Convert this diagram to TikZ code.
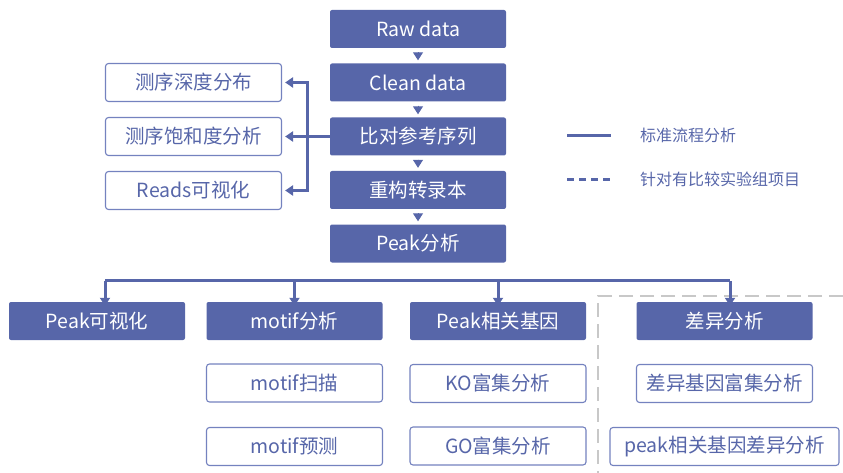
\documentclass[tikz,border=0pt]{standalone}
\usepackage{fontspec}
\setmainfont{Noto Sans CJK SC}
\usetikzlibrary{arrows.meta}
\definecolor{mainblue}{HTML}{5766A9}
\definecolor{frameblue}{HTML}{7482BF}
\definecolor{gridgray}{HTML}{C8C8C8}
\begin{document}
\begin{tikzpicture}[x=1pt,y=-1pt,
  solidbox/.style={fill=mainblue, text=white, rounded corners=2pt,
    minimum width=176pt, minimum height=38pt, inner sep=0pt,
    font=\fontsize{19.5}{21}\selectfont},
  framebox/.style={draw=frameblue, line width=1.1pt, fill=white, text=mainblue,
    rounded corners=3pt, minimum width=176pt, minimum height=38pt, inner sep=0pt,
    font=\fontsize{19.5}{21}\selectfont},
  link/.style={draw=mainblue, line width=3pt},
  tipline/.style={draw=mainblue, line width=1pt, -{Triangle[width=10pt,length=8pt]}, fill=mainblue},
  arrowlink/.style={link, -{Triangle[width=10pt,length=8pt]}, fill=mainblue},
  legendtext/.style={anchor=west, text=mainblue, font=\fontsize{16}{18}\selectfont, inner sep=0pt}
]
\useasboundingbox (0,0) rectangle (843,473);

% central column
\node[solidbox] (raw)   at (418,29)    {Raw data};
\node[solidbox] (clean) at (418,82.5)  {Clean data};
\node[solidbox] (align) at (418,136.5) {比对参考序列};
\node[solidbox] (recon) at (418,190)   {重构转录本};
\node[solidbox] (peak)  at (418,243.5) {Peak分析};

\draw[tipline, shorten <=4pt, shorten >=3pt] (raw.south) -- (clean.north);
\draw[tipline, shorten <=4pt, shorten >=3pt] (clean.south) -- (align.north);
\draw[tipline, shorten <=4pt, shorten >=3pt] (align.south) -- (recon.north);
\draw[tipline, shorten <=4pt, shorten >=3pt] (recon.south) -- (peak.north);

% left QC boxes
\node[framebox] (depth) at (193.5,82.5)  {测序深度分布};
\node[framebox] (satur) at (193.5,136.5) {测序饱和度分析};
\node[framebox] (reads) at (193.5,190.5) {Reads可视化};

\coordinate (bk) at (307,136.5);
\draw[link] (align.west) -- (bk);
\draw[link] (bk|-depth.east) -- (bk|-reads.east);
\draw[arrowlink] ([xshift=1.5pt]bk|-depth.east) -- ([xshift=3pt]depth.east);
\draw[arrowlink] (bk) -- ([xshift=3pt]satur.east);
\draw[arrowlink] ([xshift=1.5pt]bk|-reads.east) -- ([xshift=3pt]reads.east);

% legend
\coordinate (ls1) at (567,136);
\coordinate (le1) at (611,136);
\coordinate (ls2) at (567,180);
\coordinate (le2) at (611,180);
\draw[link] (ls1) -- (le1);
\draw[link, dash pattern=on 7pt off 5pt] (ls2) -- (le2);
\node[legendtext] (lg1) at (640,135) {标准流程分析};
\node[legendtext] (lg2) at (640,179.5) {针对有比较实验组项目};

% gray dashed region
\coordinate (gA) at (843,296);
\coordinate (gB) at (598,296);
\coordinate (gC) at (598,473);
\draw[gridgray, line width=1.2pt, dash pattern=on 14pt off 7pt] (gA) -- (gB) -- (gC);

% second row
\node[solidbox] (pvis)  at (97,321)    {Peak可视化};
\node[solidbox] (motif) at (294.5,321) {motif分析};
\node[solidbox] (pgene) at (498,321)   {Peak相关基因};
\node[solidbox] (diff)  at (724.5,321) {差异分析};

\coordinate (hL) at (105,280);
\coordinate (hR) at (730,280);
\draw[tipline, shorten <=1pt] (peak.south) -- ([yshift=13pt]peak.south);
\draw[link] (hL) -- (hR);
\draw[arrowlink] ([yshift=-1pt]hL) -- ([yshift=-4pt]hL|-pvis.north);
\draw[arrowlink] ([yshift=-1pt]motif.north|-hL) -- ([yshift=-4pt]motif.north);
\draw[arrowlink] ([yshift=-1pt]pgene.north|-hL) -- ([yshift=-4pt]pgene.north);
\draw[arrowlink] ([yshift=-1pt]hR) -- ([yshift=-4pt]hR|-diff.north);

% third level
\node[framebox] (mscan) at (294.5,383)  {motif扫描};
\node[framebox] (mpred) at (294.5,446.5){motif预测};
\node[framebox] (ko)    at (498,383.5)  {KO富集分析};
\node[framebox] (go)    at (498,446)    {GO富集分析};
\node[framebox] (degen) at (724.5,383.5){差异基因富集分析};
\node[framebox, minimum width=229pt] (pdiff) at (724.5,446.5) {peak相关基因差异分析};
\end{tikzpicture}
\end{document}
